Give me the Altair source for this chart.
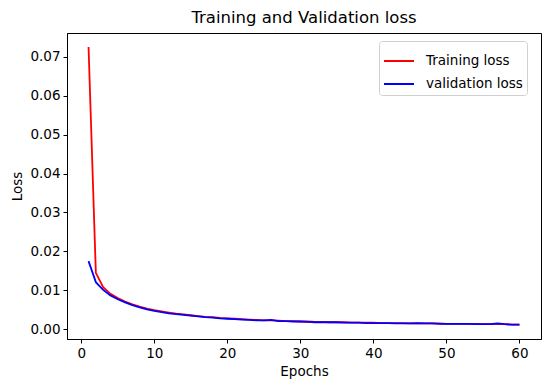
import altair as alt
import pandas as pd

epochs = list(range(1, 61))
train_loss = [0.0725, 0.0145, 0.0108, 0.0091, 0.0080, 0.0071, 0.0064, 0.0058, 0.0053, 0.0049,
              0.0046, 0.0043, 0.0040, 0.0038, 0.0036, 0.0034, 0.0032, 0.0031, 0.0029, 0.0028,
              0.0027, 0.0026, 0.0025, 0.0024, 0.0023, 0.0023, 0.0022, 0.0021, 0.0021, 0.0020,
              0.0020, 0.0019, 0.0019, 0.0018, 0.0018, 0.0018, 0.0017, 0.0017, 0.0017, 0.0017,
              0.0016, 0.0016, 0.0016, 0.0016, 0.0015, 0.0015, 0.0015, 0.0015, 0.0015, 0.0014,
              0.0014, 0.0014, 0.0014, 0.0014, 0.0013, 0.0013, 0.0014, 0.0013, 0.0012, 0.0012]
val_loss = [0.0175, 0.0121, 0.0101, 0.0087, 0.0077, 0.0069, 0.0062, 0.0056, 0.0051, 0.0047,
            0.0044, 0.0041, 0.0039, 0.0037, 0.0035, 0.0033, 0.0031, 0.0030, 0.0028, 0.0027,
            0.0026, 0.0025, 0.0024, 0.0023, 0.0023, 0.0024, 0.0021, 0.0021, 0.0020, 0.0020,
            0.0019, 0.0018, 0.0018, 0.0018, 0.0018, 0.0017, 0.0017, 0.0017, 0.0016, 0.0016,
            0.0016, 0.0016, 0.0015, 0.0015, 0.0015, 0.0016, 0.0015, 0.0015, 0.0014, 0.0014,
            0.0014, 0.0014, 0.0014, 0.0013, 0.0013, 0.0013, 0.0015, 0.0013, 0.0012, 0.0012]
series_names = ["Training loss", "validation loss"]
series_colors = ["#ff0000", "#0000ff"]

rows = []
for e, t, v in zip(epochs, train_loss, val_loss):
    rows.append({"Epochs": e, "Loss": t, "series": series_names[0]})
    rows.append({"Epochs": e, "Loss": v, "series": series_names[1]})
df = pd.DataFrame(rows)

font = "DejaVu Sans"
fs = 13.5

chart = alt.Chart(df).mark_line(strokeWidth=1.8).encode(
    x=alt.X("Epochs:Q",
            scale=alt.Scale(domain=[-1.95, 62.95], nice=False, zero=False),
            axis=alt.Axis(values=[0, 10, 20, 30, 40, 50, 60], format="d", title="Epochs")),
    y=alt.Y("Loss:Q",
            scale=alt.Scale(domain=[-0.0025, 0.0761], nice=False, zero=False),
            axis=alt.Axis(values=[0.0, 0.01, 0.02, 0.03, 0.04, 0.05, 0.06, 0.07], format=".2f", title="Loss")),
    color=alt.Color("series:N",
                    scale=alt.Scale(domain=series_names, range=series_colors),
                    sort=series_names,
                    legend=alt.Legend(title=None, orient="none", legendX=312, legendY=8,
                                      symbolType="stroke", symbolSize=900, symbolStrokeWidth=2,
                                      labelFontSize=fs, labelFont=font, labelColor="#000000",
                                      padding=4, rowPadding=0, fillColor="white",
                                      strokeColor="#d0d0d0", cornerRadius=3, labelOffset=11)),
    detail="series:N",
).properties(
    width=474,
    height=306,
    title=alt.TitleParams("Training and Validation loss", fontSize=16.5, font=font,
                          fontWeight="normal", color="#000000", offset=7),
    autosize=alt.AutoSizeParams(type="none"),
    padding={"left": 59, "top": 25, "right": 1, "bottom": 44},
).configure_view(
    stroke="#000000", strokeWidth=1
).configure_axis(
    grid=False, domainColor="#000000", tickColor="#000000", tickSize=4,
    labelFont=font, labelFontSize=fs, labelColor="#000000",
    titleFont=font, titleFontSize=fs, titleFontWeight="normal", titleColor="#000000",
    labelPadding=3
).configure_axisY(titlePadding=5).configure_axisX(titlePadding=5)

chart.save("out.html", embed_options={"renderer": "svg", "actions": False})
